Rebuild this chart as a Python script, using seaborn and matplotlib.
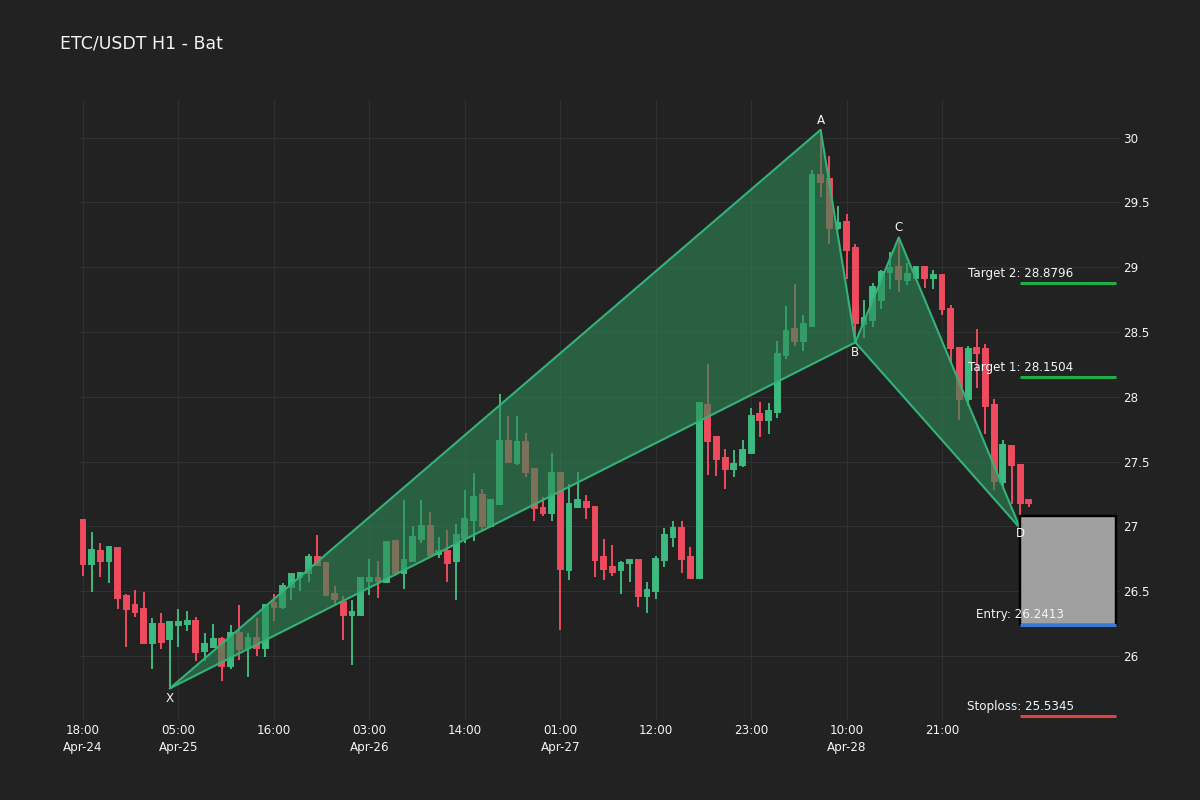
import numpy as np
import pandas as pd
import matplotlib
matplotlib.use("Agg")
import matplotlib.pyplot as plt
import matplotlib.dates as mdates
import seaborn as sns

# ---------------- data ----------------
start_time = "2024-04-24 18:00"
opens = [27.05, 26.71, 26.81, 26.73, 26.83, 26.46, 26.39, 26.36, 26.10, 26.25,
         26.13, 26.24, 26.25, 26.27, 26.04, 26.07, 26.13, 25.92, 26.18, 26.06,
         26.14, 26.06, 26.41, 26.38, 26.53, 26.61, 26.64, 26.76, 26.72, 26.48,
         26.42, 26.32, 26.32, 26.58, 26.60, 26.57, 26.89, 26.64, 26.73, 26.90,
         27.00, 26.79, 26.81, 26.73, 26.91, 27.05, 27.24, 27.00, 27.17, 27.66,
         27.49, 27.65, 27.44, 27.14, 27.10, 27.41, 26.66, 27.15, 27.19, 27.15,
         26.76, 26.69, 26.66, 26.72, 26.74, 26.46, 26.50, 26.74, 26.92, 26.99,
         26.76, 26.60, 27.94, 27.69, 27.53, 27.44, 27.47, 27.57, 27.87, 27.82,
         27.88, 28.32, 28.52, 28.43, 28.55, 29.71, 29.68, 29.30, 29.35, 29.15,
         28.56, 28.59, 28.75, 28.96, 29.00, 28.90, 28.92, 29.00, 28.92, 28.94,
         28.68, 28.38, 27.98, 28.38, 28.37, 27.94, 27.34, 27.62, 27.47, 27.20]
highs = [27.05, 26.96, 26.875, 26.84, 26.83, 26.48, 26.51, 26.49, 26.29, 26.33,
         26.26, 26.36, 26.35, 26.30, 26.18, 26.25, 26.15, 26.24, 26.39, 26.18,
         26.29, 26.40, 26.48, 26.56, 26.63, 26.64, 26.79, 26.93, 26.72, 26.54,
         26.46, 26.43, 26.61, 26.75, 26.73, 26.88, 26.89, 27.20, 27.00, 27.20,
         27.11, 26.92, 26.97, 27.02, 27.28, 27.41, 27.29, 27.21, 28.02, 27.85,
         27.85, 27.72, 27.44, 27.23, 27.57, 27.42, 27.33, 27.42, 27.24, 27.15,
         26.90, 26.86, 26.73, 26.75, 26.74, 26.57, 26.77, 26.99, 27.04, 27.04,
         26.84, 27.96, 28.25, 27.70, 27.60, 27.59, 27.67, 27.91, 27.96, 27.95,
         28.43, 28.70, 28.87, 28.63, 29.75, 30.06, 29.86, 29.47, 29.41, 29.18,
         28.75, 28.88, 28.98, 29.12, 29.23, 29.03, 29.00, 29.00, 28.98, 28.95,
         28.71, 28.38, 28.39, 28.52, 28.41, 27.98, 27.67, 27.62, 27.47, 27.20]
lows = [26.62, 26.49, 26.61, 26.56, 26.36, 26.07, 26.30, 26.10, 25.90, 26.05,
        25.75, 26.07, 26.19, 25.96, 25.96, 26.06, 25.81, 25.90, 25.97, 25.84,
        26.00, 25.99, 26.27, 26.36, 26.43, 26.50, 26.57, 26.70, 26.47, 26.40,
        26.12, 25.93, 26.32, 26.47, 26.45, 26.56, 26.62, 26.52, 26.73, 26.87,
        26.78, 26.755, 26.57, 26.43, 26.87, 26.89, 26.97, 27.00, 27.17, 27.50,
        27.47, 27.38, 27.04, 27.08, 27.04, 26.20, 26.59, 27.14, 27.06, 26.61,
        26.59, 26.62, 26.48, 26.57, 26.38, 26.33, 26.44, 26.69, 26.84, 26.64,
        26.60, 26.60, 27.40, 27.39, 27.29, 27.38, 27.46, 27.57, 27.69, 27.71,
        27.84, 28.29, 28.39, 28.35, 28.55, 29.54, 29.18, 29.29, 28.91, 28.42,
        28.45, 28.54, 28.68, 28.83, 28.81, 28.86, 28.92, 28.84, 28.83, 28.63,
        28.25, 27.82, 27.93, 28.07, 27.71, 27.28, 27.30, 27.17, 27.09, 27.15]
closes = [26.71, 26.82, 26.73, 26.84, 26.45, 26.36, 26.34, 26.10, 26.25, 26.11,
          26.26, 26.26, 26.27, 26.03, 26.09, 26.13, 25.92, 26.18, 26.05, 26.14,
          26.06, 26.39, 26.38, 26.54, 26.63, 26.64, 26.76, 26.70, 26.47, 26.44,
          26.32, 26.34, 26.60, 26.60, 26.58, 26.88, 26.64, 26.74, 26.92, 27.00,
          26.78, 26.81, 26.72, 26.93, 27.06, 27.23, 27.00, 27.20, 27.66, 27.50,
          27.65, 27.42, 27.14, 27.10, 27.41, 26.67, 27.17, 27.20, 27.15, 26.74,
          26.67, 26.65, 26.72, 26.74, 26.46, 26.51, 26.75, 26.93, 26.99, 26.75,
          26.60, 27.95, 27.66, 27.52, 27.44, 27.48, 27.59, 27.85, 27.82, 27.89,
          28.33, 28.51, 28.43, 28.56, 29.71, 29.66, 29.30, 29.34, 29.13, 28.57,
          28.61, 28.85, 28.96, 28.99, 28.91, 28.95, 29.00, 28.92, 28.94, 28.68,
          28.38, 27.98, 28.37, 28.34, 27.93, 27.35, 27.63, 27.47, 27.18, 27.18]

pattern_labels = ["X", "A", "B", "C", "D"]
pattern_times = ["2024-04-25 04:00", "2024-04-28 07:00", "2024-04-28 11:00",
                 "2024-04-28 16:00", "2024-04-29 06:00"]
pattern_prices = [25.75, 30.06, 28.42, 29.23, 26.985]

target_names = ["Target 2", "Target 1"]
target_values = [28.8796, 28.1504]
entry_value = 26.2413
stoploss_value = 25.5345
zone_top = 27.08

title_text = "ETC/USDT H1 - Bat"

# ---------------- style ----------------
BG = "#222222"
FG = "#f2f5fa"
GRID = "#303030"
UP = "#3dba80"
DOWN = "#ee4b5e"

sns.set_theme(style="dark", rc={"axes.facecolor": BG, "figure.facecolor": BG})
plt.rcParams["font.family"] = ["DejaVu Sans"]

fig = plt.figure(figsize=(12, 8), dpi=100, facecolor=BG)
ax = fig.add_axes([80 / 1200, 80 / 800, 1040 / 1200, 620 / 800])
ax.set_facecolor(BG)

times = pd.date_range(start_time, periods=len(opens), freq="h")
x = mdates.date2num(times.to_pydatetime())
o = np.array(opens); h = np.array(highs); l = np.array(lows); c = np.array(closes)
cols = np.where(c >= o, UP, DOWN)
hour = 1.0 / 24.0

# candles
ax.vlines(x, l, h, colors=cols, lw=1.4, zorder=2)
ax.bar(x, np.abs(c - o), bottom=np.minimum(o, c), width=0.55 * hour,
       color=cols, edgecolor=cols, lw=1.4, zorder=2)

# harmonic pattern
pt = mdates.date2num(pd.to_datetime(pattern_times).to_pydatetime())
pp = np.array(pattern_prices)
FILL = "#2e8b57"
LINE = "#33b27a"
for idx in ([0, 1, 2], [2, 3, 4]):
    ax.fill(pt[idx], pp[idx], color=FILL, alpha=0.6, lw=0, zorder=3)
    loop = idx + [idx[0]]
    sns.lineplot(x=pt[loop], y=pp[loop], sort=False, estimator=None,
                 color=LINE, lw=1.5, ax=ax, zorder=4)

for lab, tx, py in zip(pattern_labels, pt, pp):
    dy = 7 if lab in ("A", "C") else -7
    if lab == "D":
        dy = -4
    ax.annotate(lab, (tx, py), xytext=(0, dy), textcoords="offset points",
                ha="center", va="center", color=FG, fontsize=8.6, zorder=7)

# trade zone
d_x = pt[4]
end_x = d_x + 11 * hour
ax.fill_between([d_x, end_x], entry_value, zone_top, facecolor="#a0a0a0",
                edgecolor="black", lw=1.6, zorder=5)
ax.plot([d_x, end_x, end_x, d_x, d_x],
        [entry_value, entry_value, zone_top, zone_top, entry_value],
        color="black", lw=1.6, zorder=5)

level_vals = target_values + [entry_value, stoploss_value]
level_names = target_names + ["Entry", "Stoploss"]
level_cols = ["#1fae4b", "#1fae4b", "#3a78d6", "#e0403f"]
for nm, v, col in zip(level_names, level_vals, level_cols):
    ax.plot([d_x, end_x], [v, v], color=col, lw=2.2, zorder=6, solid_capstyle="butt")
    ax.annotate(f"{nm}: {v:.4f}", (d_x, v), xytext=(0, 7), textcoords="offset points",
                ha="center", va="center", color=FG, fontsize=8.6, zorder=7)

# axes
ax.set_xlim(x[0] - 0.35 * hour, x[0] + 119.5 * hour)
ax.set_ylim(25.506, 30.29)

tick_idx = list(range(0, 100, 11))
tick_x = x[tick_idx]
tick_labels = []
prev_day = None
for i in tick_idx:
    t = times[i]
    lab = t.strftime("%H:%M")
    if t.date() != prev_day:
        lab += "\n" + t.strftime("%b-%d")
        prev_day = t.date()
    tick_labels.append(lab)
ax.set_xticks(tick_x)
ax.set_xticklabels(tick_labels, color=FG, fontsize=8.6, linespacing=1.35)

yt = [26, 26.5, 27, 27.5, 28, 28.5, 29, 29.5, 30]
ax.set_yticks(yt)
ax.set_yticklabels([f"{v:g}" for v in yt], color=FG, fontsize=8.6)
ax.yaxis.tick_right()
ax.tick_params(axis="both", length=0)
ax.tick_params(axis="y", pad=2)
ax.tick_params(axis="x", pad=3)
for lbl in ax.get_xticklabels():
    lbl.set_multialignment("center")

ax.grid(True, color=GRID, lw=0.8, zorder=0)
ax.set_axisbelow(True)
for s in ax.spines.values():
    s.set_visible(False)
ax.set_xlabel("")
ax.set_ylabel("")
if ax.get_legend():
    ax.get_legend().remove()

fig.text(60 / 1200, 1 - 44 / 800, title_text, ha="left", va="center",
         color=FG, fontsize=12.5)

fig.savefig("out.png", dpi=100, facecolor=BG)
